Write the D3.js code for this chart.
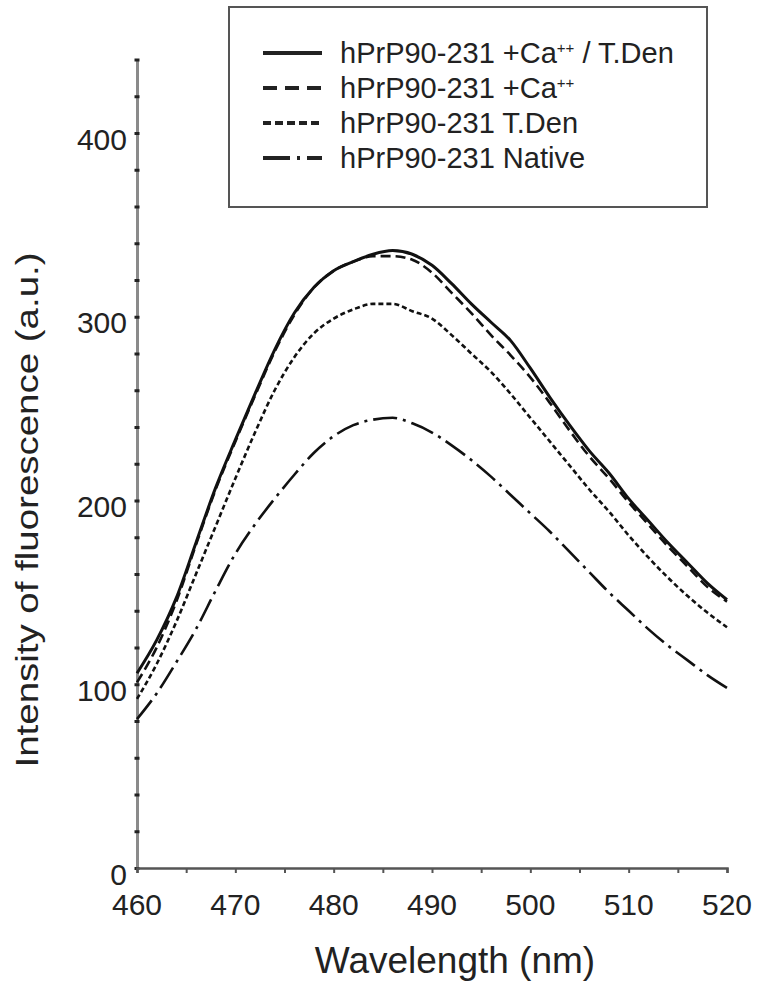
<!DOCTYPE html>
<html>
<head>
<meta charset="utf-8">
<script src="https://cdn.jsdelivr.net/npm/d3@7"></script>
<style>
  body { margin: 0; background: #fff; }
  svg { display: block; }
</style>
</head>
<body>
<svg id="chart" width="766" height="988"></svg>
<script>
// data, every 2 nm
var wavelengths = d3.range(460, 521, 2);
var caTden = [106, 124, 147, 177, 207, 233, 258, 282, 302, 316, 325, 330, 334, 336, 334, 328,
  318, 307, 297, 287, 272, 256, 241, 227, 215, 201, 189, 177, 166, 155, 146];
var caOnly = [101, 120, 145, 176, 206, 232, 257, 281, 301, 316, 325, 330, 333, 333, 331, 324,
  313, 302, 290, 279, 267, 253, 238, 224, 212, 199, 187, 175, 164, 153, 145];
var tdenOnly = [92, 111, 134, 160, 186, 212, 237, 260, 278, 291, 299, 304, 307, 307, 303, 299,
  290, 280, 270, 258, 245, 232, 219, 206, 194, 181, 169, 158, 148, 139, 131];
var nativeVals = [81, 95, 112, 130, 151, 171, 187, 201, 214, 226, 235, 241, 244, 245, 242, 237,
  230, 222, 213, 203, 193, 183, 172, 161, 150, 140, 130, 121, 113, 105, 98];

var seriesNames = ["hPrP90-231 +Ca++ / T.Den", "hPrP90-231 +Ca++", "hPrP90-231 T.Den", "hPrP90-231 Native"];
var xTicks = [460, 470, 480, 490, 500, 510, 520];
var yTicks = [0, 100, 200, 300, 400];

var svg, xScale, yScale;

document.addEventListener("DOMContentLoaded", function () {
  svg = d3.select("#chart");
  xScale = d3.scaleLinear().domain([460, 520]).range([137, 727]);
  yScale = d3.scaleLinear().domain([0, 440]).range([868, 59.5]);
  drawAxes();
  drawCurves();
  drawLegend();
});

function drawAxes() {
  // y axis: gray line, small marks every 20
  var yAxis = d3.axisLeft(yScale).tickValues(d3.range(0, 441, 20)).tickSize(0).tickFormat("");
  var gy = svg.append("g").attr("transform", "translate(137,0)").call(yAxis);
  gy.select(".domain").attr("stroke", "#8a8a8a").attr("stroke-width", 3);
  gy.selectAll(".tick").append("line")
    .attr("x1", -2.5).attr("x2", 2.5)
    .attr("stroke", "#222").attr("stroke-width", 3);

  svg.append("g").selectAll("text").data(yTicks).enter()
    .append("text")
    .attr("x", 127)
    .attr("y", d => yScale(d) + 6)
    .attr("dy", "0.35em")
    .attr("text-anchor", "end")
    .attr("font-family", "Liberation Sans, Arial, sans-serif")
    .attr("font-size", 30)
    .attr("fill", "#222")
    .text(d => d);

  // x axis: ticks every 5 nm pointing down
  var xAxis = d3.axisBottom(xScale).tickValues(d3.range(460, 521, 5)).tickSize(5).tickFormat("");
  var gx = svg.append("g").attr("transform", "translate(0,868)").call(xAxis);
  gx.select(".domain").attr("stroke", "#555").attr("stroke-width", 2.5);
  gx.selectAll(".tick line").attr("stroke", "#555").attr("stroke-width", 2);

  svg.append("g").selectAll("text").data(xTicks).enter()
    .append("text")
    .attr("x", d => xScale(d))
    .attr("y", 904)
    .attr("dy", "0.35em")
    .attr("text-anchor", "middle")
    .attr("font-family", "Liberation Sans, Arial, sans-serif")
    .attr("font-size", 30)
    .attr("fill", "#222")
    .text(d => d);

  svg.append("text")
    .attr("x", 455)
    .attr("y", 960)
    .attr("dy", "0.35em")
    .attr("text-anchor", "middle")
    .attr("font-family", "Liberation Sans, Arial, sans-serif")
    .attr("font-size", 37)
    .attr("fill", "#222")
    .text("Wavelength (nm)");

  // title is drawn a bit stretched in the original
  svg.append("text")
    .attr("transform", "translate(27,510) rotate(-90)")
    .attr("dy", "0.35em")
    .attr("text-anchor", "middle")
    .attr("font-family", "Liberation Sans, Arial, sans-serif")
    .attr("font-size", 31)
    .attr("textLength", 515)
    .attr("lengthAdjust", "spacingAndGlyphs")
    .attr("fill", "#222")
    .text("Intensity of fluorescence (a.u.)");
}

var curveStyles = [
  { dash: null, width: 3 },
  { dash: "10,5", width: 2.6 },
  { dash: "5,3", width: 2.6 },
  { dash: "24,6,3,6", width: 2.6 }
];

function drawCurves() {
  var allSeries = [caTden, caOnly, tdenOnly, nativeVals];
  var line = d3.line()
    .x((d, i) => xScale(wavelengths[i]))
    .y(d => yScale(d))
    .curve(d3.curveMonotoneX);

  svg.append("g").selectAll("path").data(allSeries).enter()
    .append("path")
    .attr("d", d => line(d))
    .attr("fill", "none")
    .attr("stroke", "#111")
    .attr("stroke-width", (d, i) => curveStyles[i].width)
    .attr("stroke-dasharray", (d, i) => curveStyles[i].dash);
}

var legendDash = [null, "14,8", "8,4", "27,7,3,7"];

function drawLegend() {
  var g = svg.append("g");
  g.append("rect")
    .attr("x", 229).attr("y", 7)
    .attr("width", 478).attr("height", 200)
    .attr("fill", "#fff")
    .attr("stroke", "#555")
    .attr("stroke-width", 2);

  var rows = g.selectAll(".row").data(seriesNames).enter()
    .append("g")
    .attr("transform", (d, i) => "translate(0," + (53 + i * 35) + ")");

  rows.append("line")
    .attr("x1", 263).attr("x2", 322)
    .attr("stroke", "#222")
    .attr("stroke-width", 4)
    .attr("stroke-dasharray", (d, i) => legendDash[i]);

  var txt = rows.append("text")
    .attr("x", 340)
    .attr("dy", "0.35em")
    .attr("font-family", "Liberation Sans, Arial, sans-serif")
    .attr("font-size", 29)
    .attr("fill", "#222");

  // draw the ++ as small raised text
  txt.each(function (d) {
    var parts = d.split("++");
    var t = d3.select(this);
    t.append("tspan").text(parts[0]);
    if (parts.length > 1) {
      t.append("tspan").attr("font-size", 15).attr("dy", -10).text("++");
      t.append("tspan").attr("dy", 10).text(parts[1]);
    }
  });
}
</script>
</body>
</html>
